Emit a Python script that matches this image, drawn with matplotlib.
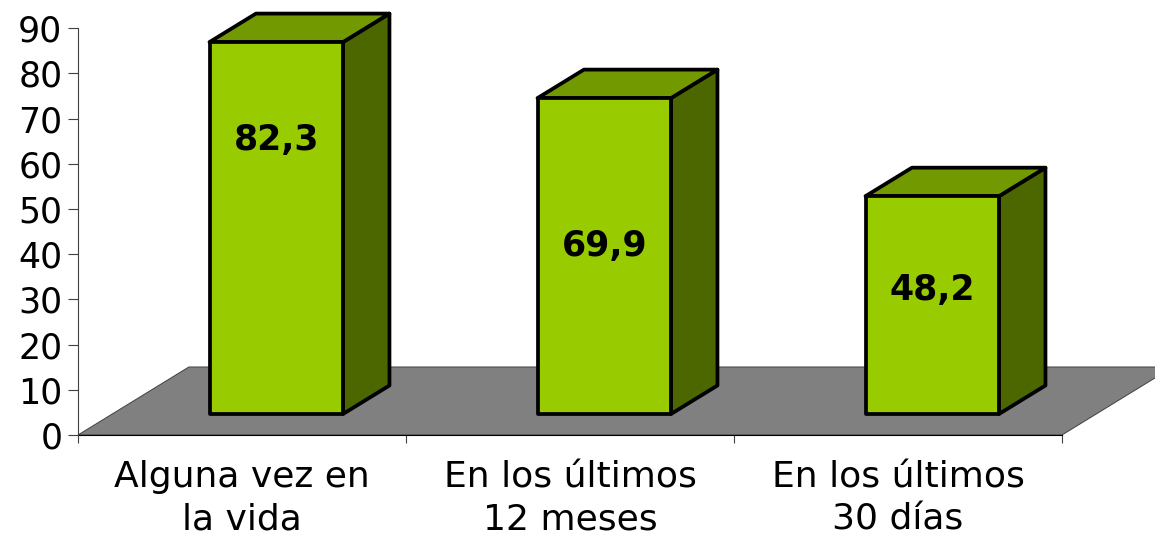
import matplotlib
matplotlib.use("Agg")
import matplotlib.pyplot as plt
from matplotlib.patches import Polygon

# ---- data ----
categories = ["Alguna vez en\nla vida", "En los últimos\n12 meses", "En los últimos\n30 días"]
values = [82.3, 69.9, 48.2]
value_labels = ["82,3", "69,9", "48,2"]
label_heights = [65.2, 41.9, 32.1]   # where Excel put the data labels (axis units)
y_ticks = [0, 10, 20, 30, 40, 50, 60, 70, 80, 90]

# ---- styling / 3D geometry ----
FRONT = "#99CC00"
TOP = "#739900"
SIDE = "#4C6600"
FLOOR = "#808080"
depth_x, depth_y = 0.338, 15.05   # floor depth vector (axis units)
f0, f1 = 0.309, 0.728             # bar front/back positions within floor depth
bar_w = 0.407

plt.rcParams['font.family'] = ['DejaVu Sans']
fig = plt.figure(figsize=(11.55, 5.4), dpi=100)
ax = fig.add_axes([78 / 1155, 105 / 540, 984 / 1155, 406.7 / 540])
ax.set_xlim(-0.5, len(values) - 0.5)
ax.set_ylim(0, 90)

# floor
x0, x1 = -0.5, len(values) - 0.5
floor = Polygon([(x0, 0), (x1, 0), (x1 + depth_x, depth_y), (x0 + depth_x, depth_y)],
                closed=True, facecolor=FLOOR, edgecolor="#404040", linewidth=0.7,
                clip_on=False, zorder=1)
ax.add_patch(floor)

# bars
for i, v in enumerate(values):
    cx = i + f0 * depth_x
    by = f0 * depth_y
    ddx = (f1 - f0) * depth_x
    ddy = (f1 - f0) * depth_y
    L, R = cx - bar_w / 2, cx + bar_w / 2
    T = by + v
    kw = dict(closed=True, edgecolor="black", linewidth=2.7, joinstyle="round",
              clip_on=False, zorder=3)
    ax.add_patch(Polygon([(R, by), (R + ddx, by + ddy), (R + ddx, T + ddy), (R, T)],
                         facecolor=SIDE, **kw))
    ax.add_patch(Polygon([(L, T), (R, T), (R + ddx, T + ddy), (L + ddx, T + ddy)],
                         facecolor=TOP, **kw))
    ax.add_patch(Polygon([(L, by), (R, by), (R, T), (L, T)],
                         facecolor=FRONT, **kw))
    ax.text(cx, label_heights[i], value_labels[i], ha="center", va="center",
            fontsize=25, fontweight="bold", color="black", zorder=5)

# axes styling
for s in ["top", "right"]:
    ax.spines[s].set_visible(False)
ax.spines["left"].set_color("#404040")
ax.spines["left"].set_linewidth(0.8)
ax.spines["bottom"].set_color("black")
ax.spines["bottom"].set_linewidth(0.8)
ax.spines["bottom"].set_zorder(2)

ax.set_yticks(y_ticks)
ax.set_yticklabels([str(t) for t in y_ticks])
ax.tick_params(axis="y", direction="out", length=7.2, width=0.8, color="#404040",
               labelsize=25, pad=4)

ax.set_xticks([i - 0.5 for i in range(len(values) + 1)])
ax.set_xticklabels([])
ax.set_xticks(list(range(len(values))), minor=True)
ax.set_xticklabels(categories, minor=True, fontsize=26, linespacing=1.3)
ax.tick_params(axis="x", which="major", direction="out", length=5.8, width=0.8, color="#404040")
ax.tick_params(axis="x", which="minor", length=0, pad=18)

fig.savefig("out.png", dpi=100)
